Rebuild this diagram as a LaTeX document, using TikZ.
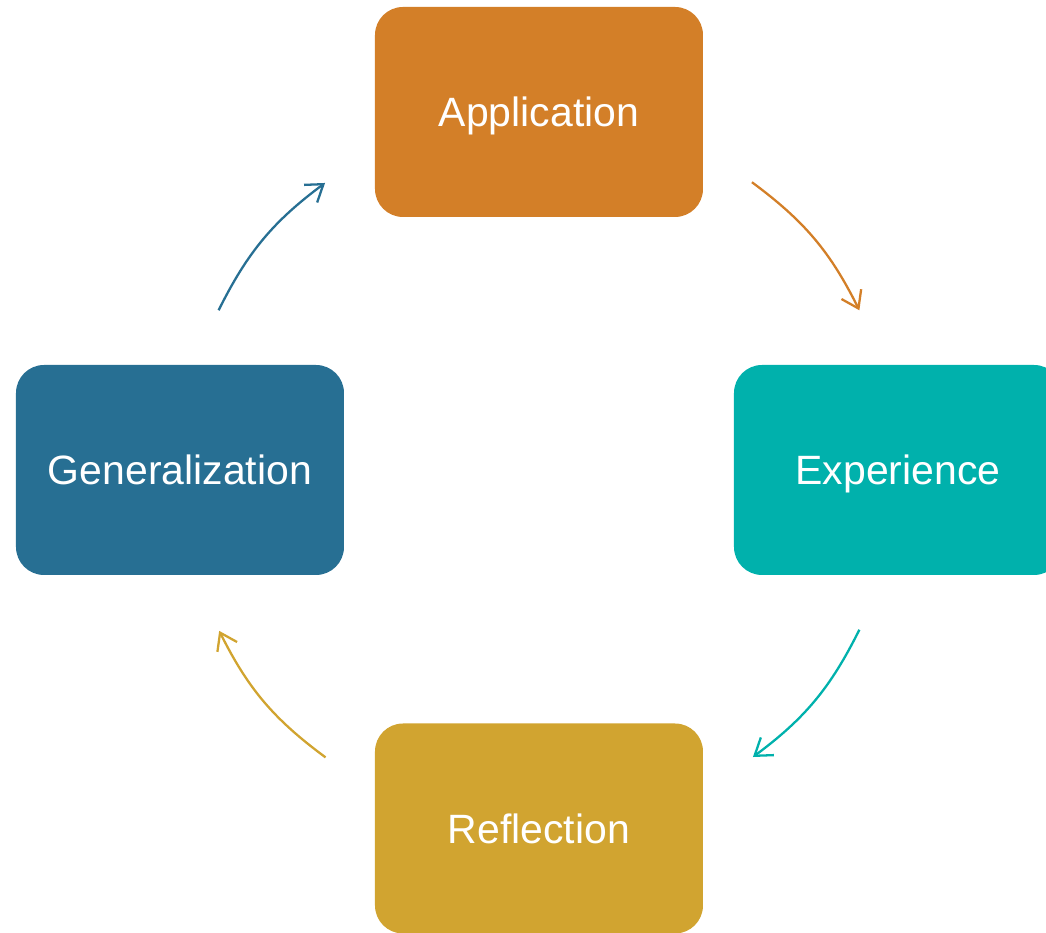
\documentclass[tikz,border=0pt]{standalone}
\usepackage{fontspec}
\setmainfont{Liberation Sans}
\usetikzlibrary{arrows.meta}
\definecolor{corange}{HTML}{D37F28}
\definecolor{cteal}{HTML}{00B1AC}
\definecolor{cgold}{HTML}{D1A430}
\definecolor{cblue}{HTML}{276F93}
\tikzset{
  every picture/.style={line width=1.3pt},
  stage/.style={fill=#1, rounded corners=0.56cm, minimum width=6.56cm, minimum height=4.2cm,
    text=white, font=\fontsize{23.3}{28}\selectfont, inner sep=0pt,
    text height=0.78cm, text depth=0.18cm},
  cycle/.style={draw=#1, -{Straight Barb[length=3.2mm, width=4.4mm]}, bend left=13.5},
}
\begin{document}
\begin{tikzpicture}
  \useasboundingbox (-10.78,-9.26) rectangle (10.14,9.4);
  \clip (-10.78,-9.26) rectangle (10.14,9.4);
  \node[stage=corange] (app) at (0,7.16) {Application};
  \node[stage=cteal] (exp) at (7.18,0) {Experience};
  \node[stage=cgold] (ref) at (0,-7.17) {Reflection};
  \node[stage=cblue] (gen) at (-7.18,0) {Generalization};
  % arc ends on a circle round the middle
  \coordinate (a1) at (53.5:7.16);
  \coordinate (a2) at (26.5:7.16);
  \coordinate (e1) at (-26.5:7.16);
  \coordinate (e2) at (-53.3:7.16);
  \coordinate (r1) at (233.4:7.16);
  \coordinate (r2) at (206.7:7.16);
  \coordinate (g1) at (153.5:7.16);
  \coordinate (g2) at (126.7:7.16);
  \draw[cycle=corange] (a1) to (a2);
  \draw[cycle=cteal] (e1) to (e2);
  \draw[cycle=cgold] (r1) to (r2);
  \draw[cycle=cblue] (g1) to (g2);
\end{tikzpicture}
\end{document}
